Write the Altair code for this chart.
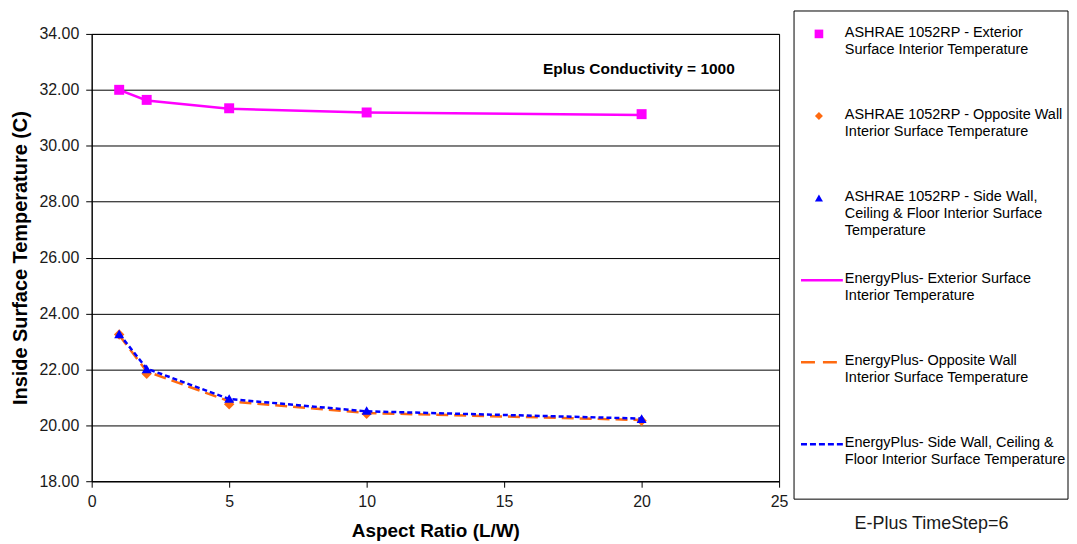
import altair as alt
import pandas as pd

FONT = "Liberation Sans"

aspect = [1, 2, 5, 10, 20]
ashrae_ext = [32.00, 31.64, 31.34, 31.19, 31.13]
ashrae_opp = [23.25, 21.84, 20.75, 20.41, 20.16]
ashrae_side = [23.27, 22.02, 20.96, 20.53, 20.24]
eplus_ext = [32.00, 31.62, 31.32, 31.19, 31.10]
eplus_opp = [23.22, 21.93, 20.86, 20.44, 20.19]
eplus_side = [23.27, 22.03, 20.94, 20.50, 20.24]

x_ticks = [0, 5, 10, 15, 20, 25]
y_ticks = [18, 20, 22, 24, 26, 28, 30, 32, 34]

annotation = "Eplus Conductivity = 1000"
annot_x = [19.9]
annot_y = [32.75]

legend_labels = [
    "ASHRAE 1052RP - Exterior\nSurface Interior Temperature",
    "ASHRAE 1052RP - Opposite Wall\nInterior Surface Temperature",
    "ASHRAE 1052RP - Side Wall,\nCeiling & Floor Interior Surface\nTemperature",
    "EnergyPlus-  Exterior Surface\nInterior Temperature",
    "EnergyPlus-  Opposite Wall\nInterior Surface Temperature",
    "EnergyPlus-  Side Wall, Ceiling &\nFloor Interior Surface Temperature",
]
legend_row = [0, 1, 2, 3, 4, 5]
legend_shape = ["square", "diamond", "triangle-up", "", "", ""]
legend_color = ["#FF00FF", "#FF6A10", "#0000FF", "#FF00FF", "#FF6A10", "#0000FF"]
footer = "E-Plus TimeStep=6"

MAG, ORA, BLU = "#FF00FF", "#FF6A10", "#0000FF"


def frame(vals):
    return pd.DataFrame({"aspect": aspect, "temp": vals})


xenc = alt.X(
    "aspect:Q",
    scale=alt.Scale(domain=[0, 25], nice=False, zero=False),
    axis=alt.Axis(
        values=x_ticks, title="Aspect Ratio (L/W)", grid=False, format="d",
        labelFontSize=16, titleFontSize=19, titleFontWeight="bold",
        titlePadding=12, tickSize=6, labelPadding=6, labelFlush=False,
    ),
)
yenc = alt.Y(
    "temp:Q",
    scale=alt.Scale(domain=[18, 34], nice=False, zero=False),
    axis=alt.Axis(
        values=y_ticks, format=".2f", title="Inside Surface Temperature (C)",
        grid=True, gridColor="black", gridOpacity=1, gridWidth=1,
        labelFontSize=16, titleFontSize=20, titleFontWeight="bold",
        titlePadding=8, tickSize=6, labelPadding=7,
    ),
)


def pts(vals, shape, color, size):
    return alt.Chart(frame(vals)).mark_point(
        shape=shape, filled=True, color=color, size=size, opacity=1
    ).encode(x=xenc, y=yenc)


def line(vals, color, dash=None):
    kw = dict(color=color, strokeWidth=2.5)
    if dash:
        kw["strokeDash"] = dash
    return alt.Chart(frame(vals)).mark_line(**kw).encode(x=xenc, y=yenc)


annot = alt.Chart(pd.DataFrame({"x": annot_x, "y": annot_y, "t": [annotation]})).mark_text(
    font=FONT, fontSize=15.5, fontWeight="bold", color="black", align="center", baseline="middle"
).encode(x=alt.X("x:Q"), y=alt.Y("y:Q"), text="t:N")

main = alt.layer(
    pts(ashrae_opp, "diamond", ORA, 110),
    line(eplus_opp, ORA, [12, 6]),
    pts(ashrae_ext, "square", MAG, 100),
    line(eplus_ext, MAG),
    pts(ashrae_side, "triangle-up", BLU, 100),
    line(eplus_side, BLU, [5, 3]),
    annot,
).properties(width=690, height=449)

# ---- legend panel (its own scales: x in panel units, y in legend rows) ----
leg = pd.DataFrame({
    "row": legend_row, "label": legend_labels,
    "shape": legend_shape, "color": legend_color,
})
LW = 275
LH = 467
ROW = 82.4
lx = alt.Scale(domain=[0, LW], nice=False, zero=False)
ly = alt.Scale(domain=[0, LH / ROW], nice=False, zero=False, reverse=True)
noaxis = alt.Axis(labels=False, ticks=False, domain=False, grid=False, title=None)
leg_x_axis = alt.Axis(labels=False, ticks=False, domain=False, grid=False, title=footer,
                      titleFontSize=18, titleFontWeight="normal", titlePadding=15,
                      titleColor="#1a1a1a")

box = alt.Chart(pd.DataFrame({"x1": [0], "x2": [LW], "y1": [-23 / ROW], "y2": [LH / ROW]})).mark_rect(
    fill="white", stroke="black", strokeWidth=1
).encode(
    x=alt.X("x1:Q", scale=lx, axis=leg_x_axis), x2="x2:Q",
    y=alt.Y("y1:Q", scale=ly, axis=noaxis), y2="y2:Q",
)

leg_layers = [box]
for shape, size in [("square", 75), ("diamond", 65), ("triangle-up", 65)]:
    leg_layers.append(
        alt.Chart(leg[leg["shape"] == shape]).transform_calculate(px="25").mark_point(
            shape=shape, filled=True, size=size, opacity=1
        ).encode(
            x=alt.X("px:Q", scale=lx),
            y=alt.Y("row:Q", scale=ly),
            color=alt.Color("color:N", scale=None),
        )
    )
dashes = {3: [1, 0], 4: [14, 8], 5: [6, 3]}
for r, d in dashes.items():
    leg_layers.append(
        alt.Chart(leg[leg["row"] == r]).transform_calculate(a="7", b="49").mark_rule(
            strokeWidth=2.5, strokeDash=d
        ).encode(
            x=alt.X("a:Q", scale=lx), x2="b:Q",
            y=alt.Y("row:Q", scale=ly),
            color=alt.Color("color:N", scale=None),
        )
    )
leg_layers.append(
    alt.Chart(leg).transform_calculate(px="51").mark_text(
        font=FONT, fontSize=14.5, align="left", baseline="top", dy=-8,
        lineBreak="\n", lineHeight=17, color="black",
    ).encode(
        x=alt.X("px:Q", scale=lx),
        y=alt.Y("row:Q", scale=ly),
        text="label:N",
    )
)
legend = alt.layer(*leg_layers).properties(
    width=LW, height=LH, view=alt.ViewBackground(stroke="transparent")
)

chart = alt.hconcat(main, legend, spacing=4).properties(
    padding={"left": 2, "top": 0, "right": 0, "bottom": 0}
).configure(font=FONT).configure_view(
    stroke="black", strokeWidth=1
).configure_axis(
    labelFont=FONT, titleFont=FONT, labelColor="#1a1a1a", titleColor="black",
    domainColor="black", tickColor="black",
)

chart.save("out.html", embed_options={"renderer": "svg", "actions": False})
